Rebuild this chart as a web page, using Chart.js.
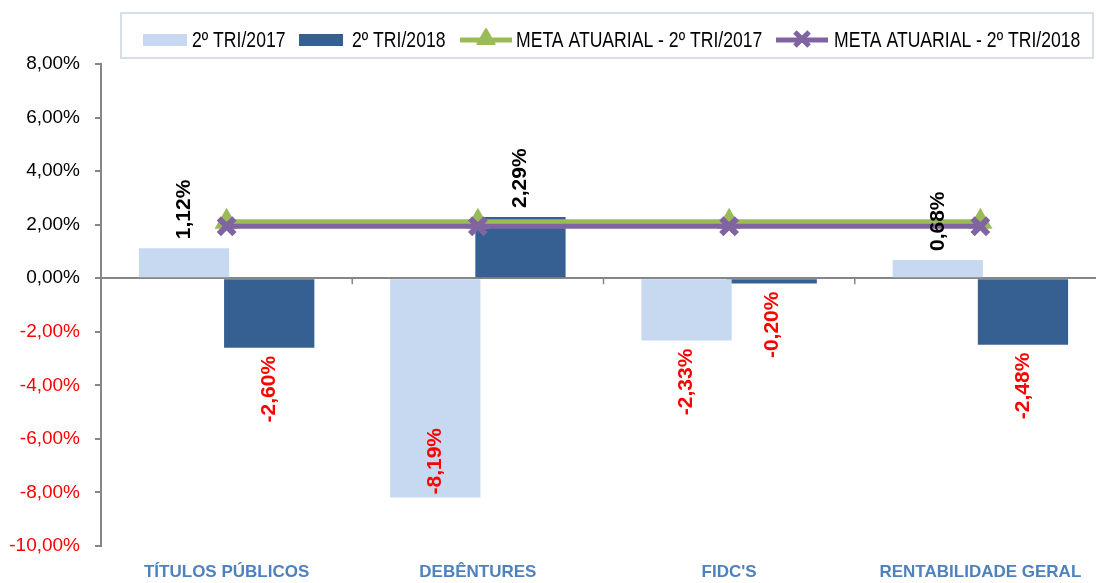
<!DOCTYPE html>
<html>
<head>
<meta charset="utf-8">
<script src="https://cdn.jsdelivr.net/npm/chart.js@4/dist/chart.umd.min.js"></script>
<style>
  html, body { margin: 0; padding: 0; background: #ffffff; overflow: hidden; }
  #wrap { width: 1096px; height: 583px; position: relative; overflow: hidden; }
</style>
</head>
<body>
<div id="wrap"><canvas id="c" width="1106" height="583"></canvas></div>
<script>
// Categories and series
const categories = ['TÍTULOS PÚBLICOS', 'DEBÊNTURES', "FIDC'S", 'RENTABILIDADE GERAL'];
const tri2017 = [1.12, -8.19, -2.33, 0.68];
const tri2018 = [-2.60, 2.29, -0.20, -2.48];
const meta2017 = [2.11, 2.11, 2.11, 2.11];
const meta2018 = [1.94, 1.94, 1.94, 1.94];
const seriesNames = ['2º TRI/2017', '2º TRI/2018', 'META ATUARIAL - 2º TRI/2017', 'META ATUARIAL - 2º TRI/2018'];
const yTicks = [8, 6, 4, 2, 0, -2, -4, -6, -8, -10];

const SANS = "'Liberation Sans', Arial, sans-serif";
const COLORS = {
  light: '#c6d9f1',
  dark: '#376092',
  green: '#9bbb59',
  purple: '#8064a2',
  axis: '#868686',
  red: '#ff0000',
  cat: '#4f81bd'
};

const fmt = v => v.toFixed(2).replace('.', ',') + '%';

// Rotated value labels on the bars
const barLabels = {
  id: 'barLabels',
  afterDatasetsDraw(chart) {
    const ctx = chart.ctx;
    const area = chart.chartArea;
    ctx.save();
    ctx.font = 'bold 21px ' + SANS;
    ctx.textBaseline = 'middle';
    [0, 1].forEach(di => {
      const meta = chart.getDatasetMeta(di);
      const data = chart.data.datasets[di].data;
      meta.data.forEach((el, i) => {
        const v = data[i];
        const txt = fmt(v);
        const w = ctx.measureText(txt).width;
        ctx.save();
        ctx.fillStyle = v < 0 ? COLORS.red : '#000000';
        if (v >= 0) {
          ctx.translate(el.x, el.y - 9);
          ctx.rotate(-Math.PI / 2);
          ctx.textAlign = 'left';
        } else if (el.y + 8 + w <= area.bottom) {
          ctx.translate(el.x, el.y + 8);
          ctx.rotate(-Math.PI / 2);
          ctx.textAlign = 'right';
        } else {
          ctx.translate(el.x, el.y - 3);
          ctx.rotate(-Math.PI / 2);
          ctx.textAlign = 'left';
        }
        ctx.fillText(txt, 0, 0);
        ctx.restore();
      });
    });
    ctx.restore();
  }
};

// Small tick marks on the zero line between categories
const zeroTicks = {
  id: 'zeroTicks',
  afterDraw(chart) {
    const xs = chart.scales.x, ys = chart.scales.y;
    const y0 = ys.getPixelForValue(0);
    const ctx = chart.ctx;
    ctx.save();
    ctx.strokeStyle = COLORS.axis;
    ctx.lineWidth = 1.5;
    for (let i = 0; i < categories.length - 1; i++) {
      const bx = (xs.getPixelForTick(i) + xs.getPixelForTick(i + 1)) / 2;
      ctx.beginPath();
      ctx.moveTo(bx, y0);
      ctx.lineTo(bx, y0 + 6);
      ctx.stroke();
    }
    ctx.restore();
  }
};

// Boxed legend across the top (condensed lettering)
const boxLegend = {
  id: 'boxLegend',
  afterDraw(chart) {
    const ctx = chart.ctx;
    ctx.save();
    ctx.strokeStyle = '#d5dee9';
    ctx.lineWidth = 2;
    ctx.strokeRect(121, 13, 972, 45);
    const cy = 40;
    ctx.font = '22px ' + SANS;
    ctx.textBaseline = 'middle';
    ctx.textAlign = 'left';
    const items = [
      { x: 143, tx: 192, kind: 'box', color: COLORS.light },
      { x: 299, tx: 352, kind: 'box', color: COLORS.dark },
      { x: 460, tx: 516, kind: 'line', color: COLORS.green, style: 'triangle', r: 10, bw: 2 },
      { x: 776, tx: 834, kind: 'line', color: COLORS.purple, style: 'crossRot', r: 10, bw: 5 }
    ];
    items.forEach((it, i) => {
      if (it.kind === 'box') {
        ctx.fillStyle = it.color;
        ctx.fillRect(it.x, cy - 6, 44, 12);
      } else {
        ctx.strokeStyle = it.color;
        ctx.lineWidth = 5;
        ctx.beginPath();
        ctx.moveTo(it.x, cy);
        ctx.lineTo(it.x + 52, cy);
        ctx.stroke();
        ctx.fillStyle = it.color;
        ctx.strokeStyle = it.color;
        ctx.lineWidth = it.bw;
        ctx.lineJoin = 'round';
        Chart.helpers.drawPoint(ctx, { pointStyle: it.style, radius: it.r, rotation: 0, borderWidth: it.bw }, it.x + 26, cy - 1);
      }
      ctx.save();
      ctx.fillStyle = '#000000';
      ctx.translate(it.tx, cy + 1);
      ctx.scale(0.8, 1);
      ctx.fillText(seriesNames[i], 0, 0);
      ctx.restore();
    });
    ctx.restore();
  }
};

new Chart(document.getElementById('c'), {
  data: {
    labels: categories,
    datasets: [
      { type: 'bar', label: seriesNames[0], data: tri2017, backgroundColor: COLORS.light, order: 3,
        categoryPercentage: 0.678, barPercentage: 1.06 },
      { type: 'bar', label: seriesNames[1], data: tri2018, backgroundColor: COLORS.dark, order: 4,
        categoryPercentage: 0.678, barPercentage: 1.06 },
      { type: 'line', label: seriesNames[2], data: meta2017, borderColor: COLORS.green, backgroundColor: COLORS.green,
        borderWidth: 5, pointStyle: 'triangle', pointRadius: 12, pointBorderWidth: 2, pointBackgroundColor: COLORS.green,
        pointBorderColor: COLORS.green, order: 2, fill: false },
      { type: 'line', label: seriesNames[3], data: meta2018, borderColor: COLORS.purple, backgroundColor: COLORS.purple,
        borderWidth: 5, pointStyle: 'crossRot', pointRadius: 11, pointBorderWidth: 6, pointBorderColor: COLORS.purple,
        order: 1, fill: false }
    ]
  },
  options: {
    responsive: false,
    animation: false,
    layout: { padding: { top: 64, left: 0, right: 0, bottom: 0 }, autoPadding: false },
    plugins: { legend: { display: false }, tooltip: { enabled: false } },
    scales: {
      x: {
        offset: true,
        grid: { display: false, drawTicks: true, tickLength: 16 },
        border: { display: false },
        ticks: {
          autoSkip: false, maxRotation: 0, padding: 0,
          color: COLORS.cat,
          font: { family: SANS, size: 17, weight: 'bold' }
        },
        afterFit(s) { s.height = 37; s.paddingLeft = 0; s.paddingRight = 0; }
      },
      y: {
        min: -10, max: 8,
        afterBuildTicks(s) { s.ticks = yTicks.map(v => ({ value: v })); },
        grid: {
          color: c => (c.tick && c.tick.value === 0 ? COLORS.axis : 'rgba(0,0,0,0)'),
          lineWidth: 2,
          tickColor: COLORS.axis,
          tickLength: 6,
          drawTicks: true
        },
        border: { display: true, color: COLORS.axis, width: 2 },
        ticks: {
          padding: 15,
          color: c => (c.tick.value < 0 ? COLORS.red : '#000000'),
          font: { family: SANS, size: 19 },
          callback: v => fmt(v)
        },
        afterFit(s) { s.width = 101; }
      }
    }
  },
  plugins: [barLabels, zeroTicks, boxLegend]
});
</script>
</body>
</html>
